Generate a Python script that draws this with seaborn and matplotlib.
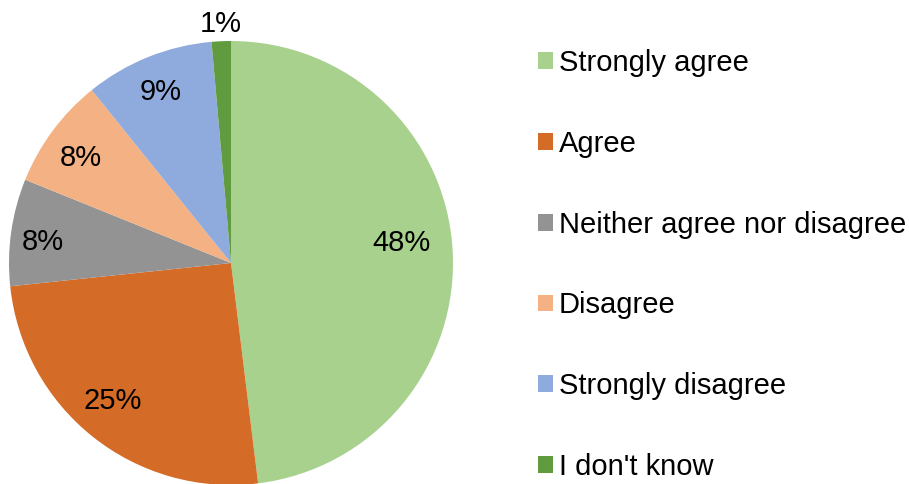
import matplotlib
matplotlib.use("Agg")
import matplotlib.pyplot as plt
from matplotlib.patches import Patch
import numpy as np
import seaborn as sns

# Survey responses (share of respondents, %)
categories = ["Strongly agree", "Agree", "Neither agree nor disagree",
              "Disagree", "Strongly disagree", "I don't know"]
shares = [48.1, 25.3, 7.8, 8.1, 9.4, 1.4]
colors = ["#A9D18E", "#D46B27", "#939393", "#F4B183", "#8FAADC", "#609C3F"]

sns.set_theme(style="white")
plt.rcParams["font.family"] = ["Liberation Sans", "DejaVu Sans"]
palette = sns.color_palette(colors)

fig = plt.figure(figsize=(9.09, 4.84), dpi=100)
ax = fig.add_axes([9 / 909, -1 / 484, 444 / 909, 444 / 484])

wedges, _ = ax.pie(shares, colors=palette, startangle=90, counterclock=False,
                   radius=1.0, wedgeprops=dict(linewidth=0))
ax.set_xlim(-1, 1)
ax.set_ylim(-1, 1)
ax.set_aspect("equal")
ax.axis("off")

# Percentage labels near each wedge's bisector (radius fraction, angle nudge in degrees)
label_dist = [0.775, 0.81, 0.855, 0.835, 0.845, 1.09]
label_nudge = [4.3, -2.7, 0.7, 0.9, 0.2, 0.0]
for w, v, d, n in zip(wedges, shares, label_dist, label_nudge):
    mid = np.deg2rad((w.theta1 + w.theta2) / 2 + n)
    ax.annotate(f"{v:.0f}%", xy=(d * np.cos(mid), d * np.sin(mid)),
                xytext=(0, -2.2), textcoords="offset points",
                ha="center", va="center", fontsize=21, color="black",
                annotation_clip=False)

handles = [Patch(facecolor=c, edgecolor="none") for c in palette]
leg = fig.legend(handles, categories, loc="upper left",
                 bbox_to_anchor=(538 / 909, 1 - 49 / 484), frameon=False,
                 fontsize=21, handlelength=0.5, handleheight=0.5,
                 handletextpad=0.22, labelspacing=1.81, borderaxespad=0, borderpad=0)
for t in leg.get_texts():
    t.set_color("black")

fig.savefig("out.png", dpi=100, facecolor="white")
